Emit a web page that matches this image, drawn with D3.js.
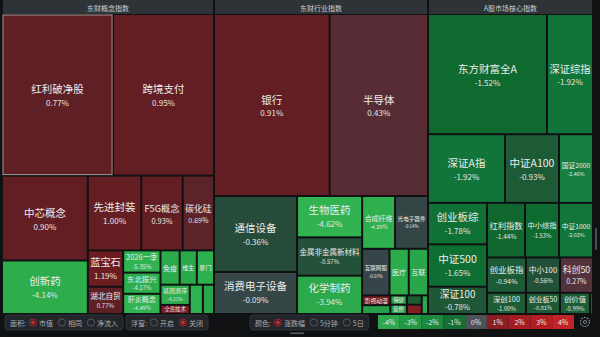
<!DOCTYPE html>
<html>
<head>
<meta charset="utf-8">
<script src="https://cdn.jsdelivr.net/npm/d3@7"></script>
<style>
  html, body { margin: 0; padding: 0; background: #0f1113; }
  svg { display: block; font-family: "Noto Sans CJK SC", "Noto Sans", sans-serif; }
</style>
</head>
<body>
<div id="chart-area"></div>
<script>
// panel titles
const panelTitles = ['东财概念指数', '东财行业指数', 'A股市场核心指数'];

// panel 1 - concept indices
const conceptNames = ['红利破净股', '跨境支付', '中芯概念', '创新药', '先进封装', 'F5G概念', '碳化硅', '蓝宝石', '湖北自贸',
  '2026一季', '东北振兴', '肝炎概念', '免疫', '维生', '厦门', '基因测序', '全息技术', '', ''];
const conceptChanges = [0.77, 0.95, 0.9, -4.14, 1.0, 0.93, 0.69, 1.19, 0.77, -5.35, -4.17, -4.49, -4.0, -3.9, -4.3, -4.21, 1.6, -4.4, -3.8];
const conceptWeights = [17600, 16000, 7140, 4505, 3922, 3034, 2294, 1260, 945, 814, 777, 740, 646, 578, 578, 580, 261, 377, 319];
const conceptGroups = [[0, 1], [[2, 3], [[4, 5, 6], [[7, 8], [9, 10, 11], [[12, 13, 14], [[15, 16], 17, 18]]]]]];

// panel 2 - industry indices
const industryNames = ['银行', '半导体', '通信设备', '消费电子设备', '生物医药', '金属非金属新材料', '化学制药', '合成纤维', '光电子器件',
  '互联网服', '医疗', '互联', '影视动漫', '', '保健', '装修', '', '', ''];
const industryChanges = [0.91, 0.43, -0.36, -0.09, -4.62, -0.57, -3.94, -4.29, -0.14, -0.07, -4.0, -3.8, 1.3, -3.6, -3.5, -3.6, -1.0, 1.8, -3.9];
const industryWeights = [20520, 17460, 6156, 3402, 2624, 2432, 2432, 1696, 1696, 1242, 874, 874, 270, 243, 150, 150, 135, 135, 114];
const industryGroups = [[0, 1], [[2, 3], [4, 5, 6], [[7, 8], [9, 10, 11], [[12, 13], [14, 15], [16, 17], 18]]]];

// panel 3 - core market indices
const coreNames = ['东方财富全A', '深证综指', '深证A指', '中证A100', '国证2000', '创业板综', '中证500', '深证100', '红利指数', '中小综指',
  '中证1000', '创业板指', '中小100', '科创50', '深创100', '创业板50', '创价值', ''];
const coreChanges = [-1.52, -1.92, -1.92, -0.93, -2.46, -1.78, -1.65, -0.78, -1.44, -1.53, -2.02, -0.94, -0.56, 0.27, -1.0, -0.81, -0.99, -1.5];
const coreWeights = [14161, 5474, 5236, 3672, 2312, 2419, 2478, 1593, 2052, 1836, 1836, 1365, 1190, 1155, 819, 714, 630, 63];
const coreGroups = [[0, 1], [2, 3, 4], [[5, 6, 7], [[8, 9, 10], [11, 12, 13], [14, 15, 16, 17]]]];

// legend + toolbar
const legendLabels = ['-4%', '-3%', '-2%', '-1%', '0%', '1%', '2%', '3%', '4%'];
const legendColors = ['#2ea64d', '#229945', '#1b8a3f', '#167035', '#4d5258', '#8c1d22', '#a41c22', '#b31d24', '#c22329'];
const toolbarLabels = ['面积:', '浮窗:', '颜色:'];
const toolbarOptions = [['市值', '相同', '净流入'], ['开启', '关闭'], ['涨跌幅', '5分钟', '5日']];
const toolbarActive = [0, 1, 0];

let width = 600;
let height = 337;
let mapTop = 15, mapBottom = 313;
let panelX = [{ x0: 3, x1: 213 }, { x0: 215, x1: 427 }, { x0: 429, x1: 592 }];
let selectedName = '红利破净股';

let colorScale = d3
  .scaleLinear()
  .domain([-4.5, -4, -2.5, -2, -1.5, -1, -0.3, 0, 0.3, 0.8, 1.2, 2, 4])
  .range(['#30b350', '#2cab4b', '#168040', '#12763a', '#0e6a2e', '#1c5d35', '#27493c', '#3d444c', '#56303a', '#5e1f24', '#6c1c20', '#8a1d22', '#b52025'])
  .clamp(true);

let chart = d3
  .select('#chart-area')
  .append('svg')
  .attr('width', width)
  .attr('height', height);

chart.append('rect').attr('width', width).attr('height', height).attr('fill', '#0f1113');

//alternate slice / dice with depth
function tile(node, x0, y0, x1, y1) {
  (node.depth % 2 === 0 ? d3.treemapSlice : d3.treemapDice)(node, x0, y0, x1, y1);
}
function nest(g) {
  return Array.isArray(g) ? { children: g.map(nest) } : { i: g };
}
function units(s) {
  let u = 0;
  for (const ch of s) u += /[\x00-\x7f]/.test(ch) ? (/[A-Z]/.test(ch) ? 0.68 : 0.58) : 1;
  return u;
}
let fmt = (v) => v.toFixed(2) + '%';

let panels = [
  { names: conceptNames, changes: conceptChanges, weights: conceptWeights, groups: conceptGroups },
  { names: industryNames, changes: industryChanges, weights: industryWeights, groups: industryGroups },
  { names: coreNames, changes: coreChanges, weights: coreWeights, groups: coreGroups },
];

panels.forEach((p, k) => {
  let { x0, x1 } = panelX[k];
  let g = chart.append('g');

  //header
  g.append('rect').attr('x', x0).attr('y', 0).attr('width', x1 - x0).attr('height', 14).attr('fill', '#2e3337');
  g.append('text')
    .attr('x', (x0 + x1) / 2)
    .attr('y', 7.5)
    .attr('text-anchor', 'middle')
    .attr('dominant-baseline', 'central')
    .attr('fill', '#c9cdd0')
    .style('font-size', '7px')
    .text(panelTitles[k]);

  let root = d3
    .hierarchy(nest(p.groups))
    .sum((d) => (d.i !== undefined ? p.weights[d.i] : 0));
  d3.treemap().tile(tile).size([x1 - x0, mapBottom - mapTop]).paddingInner(2)(root);

  let cells = g
    .selectAll('g.cell')
    .data(root.leaves())
    .enter()
    .append('g')
    .attr('class', 'cell')
    .attr('transform', (d) => `translate(${x0 + d.x0},${mapTop + d.y0})`);

  cells
    .append('rect')
    .attr('width', (d) => Math.max(0, d.x1 - d.x0))
    .attr('height', (d) => Math.max(0, d.y1 - d.y0))
    .attr('fill', (d) => colorScale(p.changes[d.data.i]))
    .attr('stroke', (d) => (p.names[d.data.i] === selectedName ? '#a89494' : 'none'))
    .attr('stroke-width', 1);

  cells.each(function (d) {
    let name = p.names[d.data.i];
    if (!name) return;
    let w = d.x1 - d.x0, h = d.y1 - d.y0;
    let f1 = Math.min(10.5, (w - 3) / units(name), h * 0.75);
    if (f1 < 4.5) return;
    let pct = fmt(p.changes[d.data.i]);
    let f1p = Math.min(f1, h / 2.6);
    let f2 = Math.min(8, f1p * 0.8);
    let showPct = h >= 16 && f1p >= 4.5 && pct.length * 0.56 * f2 <= w - 3;
    if (showPct) f1 = f1p;
    let gap = Math.max(0, Math.min((h - f1 - f2) / 4, f1 * 0.45));
    let dist = Math.max(0.71 * (f1 + f2), (f1 + f2) / 2 + gap);
    let shift = h > 60 ? 1 : 0;
    let cx = w / 2, cy = h / 2;
    let cell = d3.select(this);
    cell.append('text')
      .attr('x', cx)
      .attr('y', showPct ? cy - dist / 2 + shift : cy)
      .attr('text-anchor', 'middle')
      .attr('dominant-baseline', 'central')
      .attr('fill', '#ececec')
      .style('font-size', f1 + 'px')
      .text(name);
    if (showPct) {
      cell.append('text')
        .attr('x', cx)
        .attr('y', cy + dist / 2 + shift)
        .attr('text-anchor', 'middle')
        .attr('dominant-baseline', 'central')
        .attr('fill', '#e4e4e4')
        .style('font-size', f2 + 'px')
        .text(pct);
    }
  });
});

//toolbar
let toolbarX = [5, 126, 250];
let toolbarY = 315, toolbarH = 15;
toolbarLabels.forEach((label, k) => {
  let g = chart.append('g').attr('transform', `translate(${toolbarX[k]},${toolbarY})`);
  let box = g.append('rect')
    .attr('height', toolbarH)
    .attr('rx', 3)
    .attr('fill', '#22262a')
    .attr('stroke', '#363b40')
    .attr('stroke-width', 0.8);
  let x = 5;
  let t = g.append('text').attr('x', x).attr('y', toolbarH / 2).attr('dominant-baseline', 'central')
    .attr('fill', '#a9adb1').style('font-size', '7px').text(label);
  x += t.node().getComputedTextLength() + 7;
  toolbarOptions[k].forEach((opt, j) => {
    g.append('circle').attr('cx', x).attr('cy', toolbarH / 2).attr('r', 3.6)
      .attr('fill', 'none').attr('stroke', j === toolbarActive[k] ? '#b8242a' : '#5a5f64').attr('stroke-width', 0.9);
    if (j === toolbarActive[k]) {
      g.append('circle').attr('cx', x).attr('cy', toolbarH / 2).attr('r', 1.9).attr('fill', '#d02a30');
    }
    x += 6;
    let o = g.append('text').attr('x', x).attr('y', toolbarH / 2).attr('dominant-baseline', 'central')
      .attr('fill', '#a9adb1').style('font-size', '7px').text(opt);
    x += o.node().getComputedTextLength() + 9;
  });
  box.attr('width', x - 4);
});

//legend
let legendScale = d3.scaleBand().domain(legendLabels).range([378, 574]);
let legend = chart.append('g');
legend.selectAll('rect')
  .data(legendLabels)
  .enter()
  .append('rect')
  .attr('x', (d) => legendScale(d))
  .attr('y', 315)
  .attr('width', legendScale.bandwidth())
  .attr('height', 14)
  .attr('fill', (d, i) => legendColors[i]);
legend.selectAll('text')
  .data(legendLabels)
  .enter()
  .append('text')
  .attr('x', (d) => legendScale(d) + legendScale.bandwidth() / 2)
  .attr('y', 322)
  .attr('text-anchor', 'middle')
  .attr('dominant-baseline', 'central')
  .attr('fill', '#e6e6e6')
  .style('font-size', '7px')
  .text((d) => d);

//settings gear
let gear = chart.append('g').attr('transform', 'translate(585,322)');
gear.append('circle').attr('r', 4.5).attr('fill', 'none').attr('stroke', '#8a8f94').attr('stroke-width', 1.2).attr('stroke-dasharray', '1.6 1.2');
gear.append('circle').attr('r', 1.6).attr('fill', 'none').attr('stroke', '#8a8f94').attr('stroke-width', 0.9);

//scroll hints
chart.append('rect').attr('x', 290).attr('y', 332.5).attr('width', 14).attr('height', 1.5).attr('rx', 0.7).attr('fill', '#5b6065');
chart.append('rect').attr('x', 595).attr('y', 228).attr('width', 2).attr('height', 22).attr('rx', 1).attr('fill', '#4a4f54');
</script>
</body>
</html>
